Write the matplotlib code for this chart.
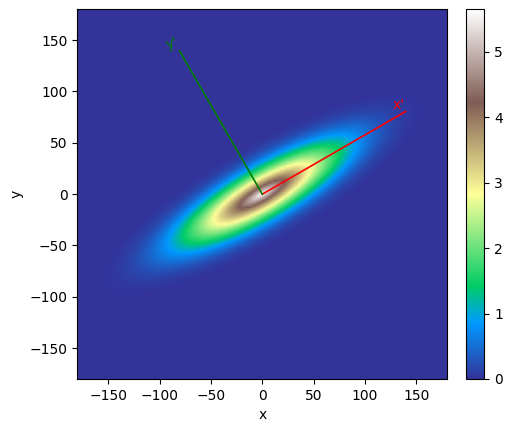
import numpy as np
import matplotlib
matplotlib.use("Agg")
import matplotlib.pyplot as plt

# parameters of the density image
peak = 5.65
angle_deg = 30.0
scale_major = 90.0
scale_minor = 24.0
cubic_coef = 0.45
extent = [-180, 180, -180, 180]
axis_len = 161.0
x_label_pos = [133, 87]
y_label_pos = [-88, 147]

n = 180
xs = np.linspace(extent[0], extent[1], n)
ys = np.linspace(extent[2], extent[3], n)
X, Y = np.meshgrid(xs, ys)
th = np.deg2rad(angle_deg)
U = X * np.cos(th) + Y * np.sin(th)
V = -X * np.sin(th) + Y * np.cos(th)
R = np.sqrt((U / scale_major) ** 2 + (V / scale_minor) ** 2)
Z = peak * np.exp(-(R + cubic_coef * R ** 3))

fig = plt.figure(figsize=(5.12, 4.32), dpi=100)
ax = fig.add_axes([77.3 / 512, 1 - 379 / 432, (447.3 - 77.3) / 512, (379 - 9.3) / 432])
cax = fig.add_axes([465.7 / 512, 1 - 379 / 432, (484.3 - 465.7) / 512, (379 - 9.3) / 432])
im = ax.imshow(Z, origin="lower", extent=extent, cmap="terrain", vmin=0, vmax=peak,
               aspect="auto")
ax.set_xlim(extent[0], extent[1])
ax.set_ylim(extent[2], extent[3])
ax.set_xticks([-150, -100, -50, 0, 50, 100, 150])
ax.set_yticks([-150, -100, -50, 0, 50, 100, 150])
ax.set_xlabel("x")
ax.set_ylabel("y")

ex = axis_len * np.array([np.cos(th), np.sin(th)])
ey = axis_len * np.array([-np.sin(th), np.cos(th)])
ax.plot([0, ex[0]], [0, ex[1]], color="red", lw=1.2)
ax.plot([0, ey[0]], [0, ey[1]], color="green", lw=1.2)
ax.text(x_label_pos[0], x_label_pos[1], "x'", color="red", ha="center", va="center", fontsize=10)
ax.text(y_label_pos[0], y_label_pos[1], "y'", color="green", ha="center", va="center", fontsize=10, rotation=20)

fig.colorbar(im, cax=cax)
fig.savefig("out.png", dpi=100)
